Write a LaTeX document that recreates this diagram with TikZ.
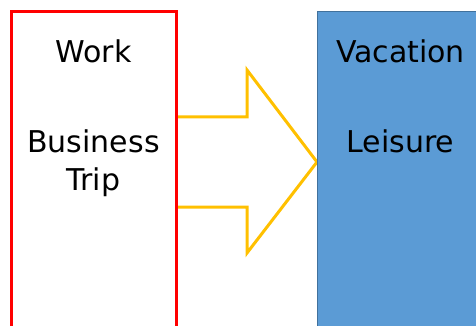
\documentclass[tikz,border=0pt]{standalone}
\usepackage{fontspec}
\setmainfont{DejaVu Sans}
\usepackage{tikz}
\usetikzlibrary{positioning}

\definecolor{boxred}{HTML}{FF0000}
\definecolor{arrowgold}{HTML}{FFC000}
\definecolor{leisureblue}{HTML}{5B9BD5}
\definecolor{leisureedge}{HTML}{41719C}

\tikzset{
  label text/.style={font=\fontsize{30}{38}\selectfont, anchor=base, inner sep=0pt},
}

\begin{document}
\begin{tikzpicture}[x=1pt, y=-1pt]
    \useasboundingbox (0,0) rectangle (476,326);
    % hollow arrow between the two columns
    \draw[arrowgold, line width=3pt, line join=miter]
        (176,117) -- (247,117) -- (247,70) -- (317,162) -- (247,253) -- (247,207) -- (176,207);
    % left column
    \draw[boxred, line width=3pt] (11,12) rectangle (176,345);
    \node[label text] (work) at (93.5,63) {Work};
    \node[label text] (business) at (93.5,152) {Business};
    \node[label text] (trip) at (93.5,190) {Trip};
    % right column
    \draw[leisureedge, fill=leisureblue, line width=1pt] (317.5,12) rectangle (484,345);
    \node[label text] (vacation) at (400.5,63) {Vacation};
    \node[label text] (leisure) at (400.5,152) {Leisure};
\end{tikzpicture}
\end{document}
